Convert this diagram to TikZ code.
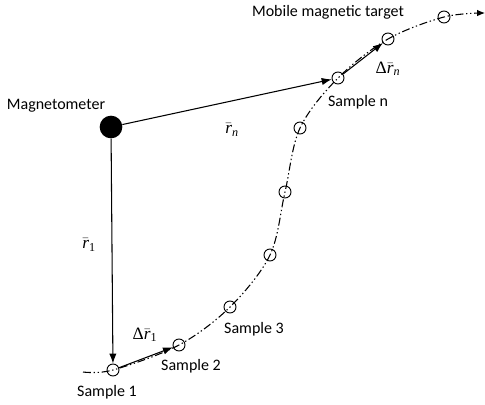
\documentclass[tikz,border=0pt]{standalone}
\usepackage{amsmath}
\usepackage{fontspec}
\setmainfont{Carlito}
\newfontfamily\varfont{Liberation Serif}
\usetikzlibrary{arrows.meta}
\newcommand{\rvec}[1]{$\bar{\text{\varfont\itshape r}}_{\text{\varfont #1}}$}
\tikzset{
  sample/.style={draw,circle,minimum size=9pt,inner sep=0pt,line width=0.7pt},
  magdot/.style={circle,fill=black,minimum size=17pt,inner sep=0pt},
  vec/.style={line width=0.8pt,-{Latex[length=7.5pt,width=5.5pt]}},
  track/.style={line width=0.8pt,dash pattern=on 6pt off 2pt on 1pt off 2pt on 1pt off 2pt},
  lbl/.style={font=\fontsize{12}{14}\selectfont,inner sep=0pt},
  mlbl/.style={font=\fontsize{13}{15}\selectfont,inner sep=0pt}
}
\begin{document}
\begin{tikzpicture}[x=0.75pt,y=-0.75pt]
\useasboundingbox (0,0) rectangle (485,404);
% magnetometer
\node[magdot] (mag) at (111,127) {};
\node[lbl] (maglbl) at (56,106) {Magnetometer};
% samples along the track
\node[sample] (s1) at (113,370) {};
\node[sample] (s2) at (179,345) {};
\node[sample] (s3) at (230,307) {};
\node[sample] (s4) at (270,255) {};
\node[sample] (s5) at (285,192) {};
\node[sample] (s6) at (300,128) {};
\node[sample] (sn) at (338,78) {};
\node[sample] (s8) at (388,39) {};
\node[sample] (s9) at (444,17) {};
\coordinate (start) at (83,372);
\coordinate (stop) at (485,13);
% track of the target
\draw[track,-{Latex[length=6pt,width=5pt]}] plot[smooth,tension=0.55] coordinates {(start) (s1.center) (s2.center) (s3.center) (s4.center) (s5.center) (s6.center) (sn.center) (s8.center) (s9.center) (stop)};
% position vectors
\draw[vec] (mag) -- (sn);
\draw[vec] (mag) -- (s1);
\draw[vec] (s1) -- (s2);
\draw[vec] (sn) -- (s8);
% labels
\node[lbl] (tgtlbl) at (328,12) {Mobile magnetic target};
\node[lbl] (snlbl) at (358,102) {Sample n};
\node[lbl] (s1lbl) at (107,392) {Sample 1};
\node[lbl] (s2lbl) at (191,366) {Sample 2};
\node[lbl] (s3lbl) at (254,329) {Sample 3};
\node[mlbl] (rnlbl) at (232,130) {\rvec{\itshape n}};
\node[mlbl] (r1lbl) at (89,245) {\rvec{1}};
\node[mlbl] (dr1lbl) at (145,335) {{\varfont Δ}\rvec{1}};
\node[mlbl] (drnlbl) at (388,69) {{\varfont Δ}\rvec{\itshape n}};
\end{tikzpicture}
\end{document}
